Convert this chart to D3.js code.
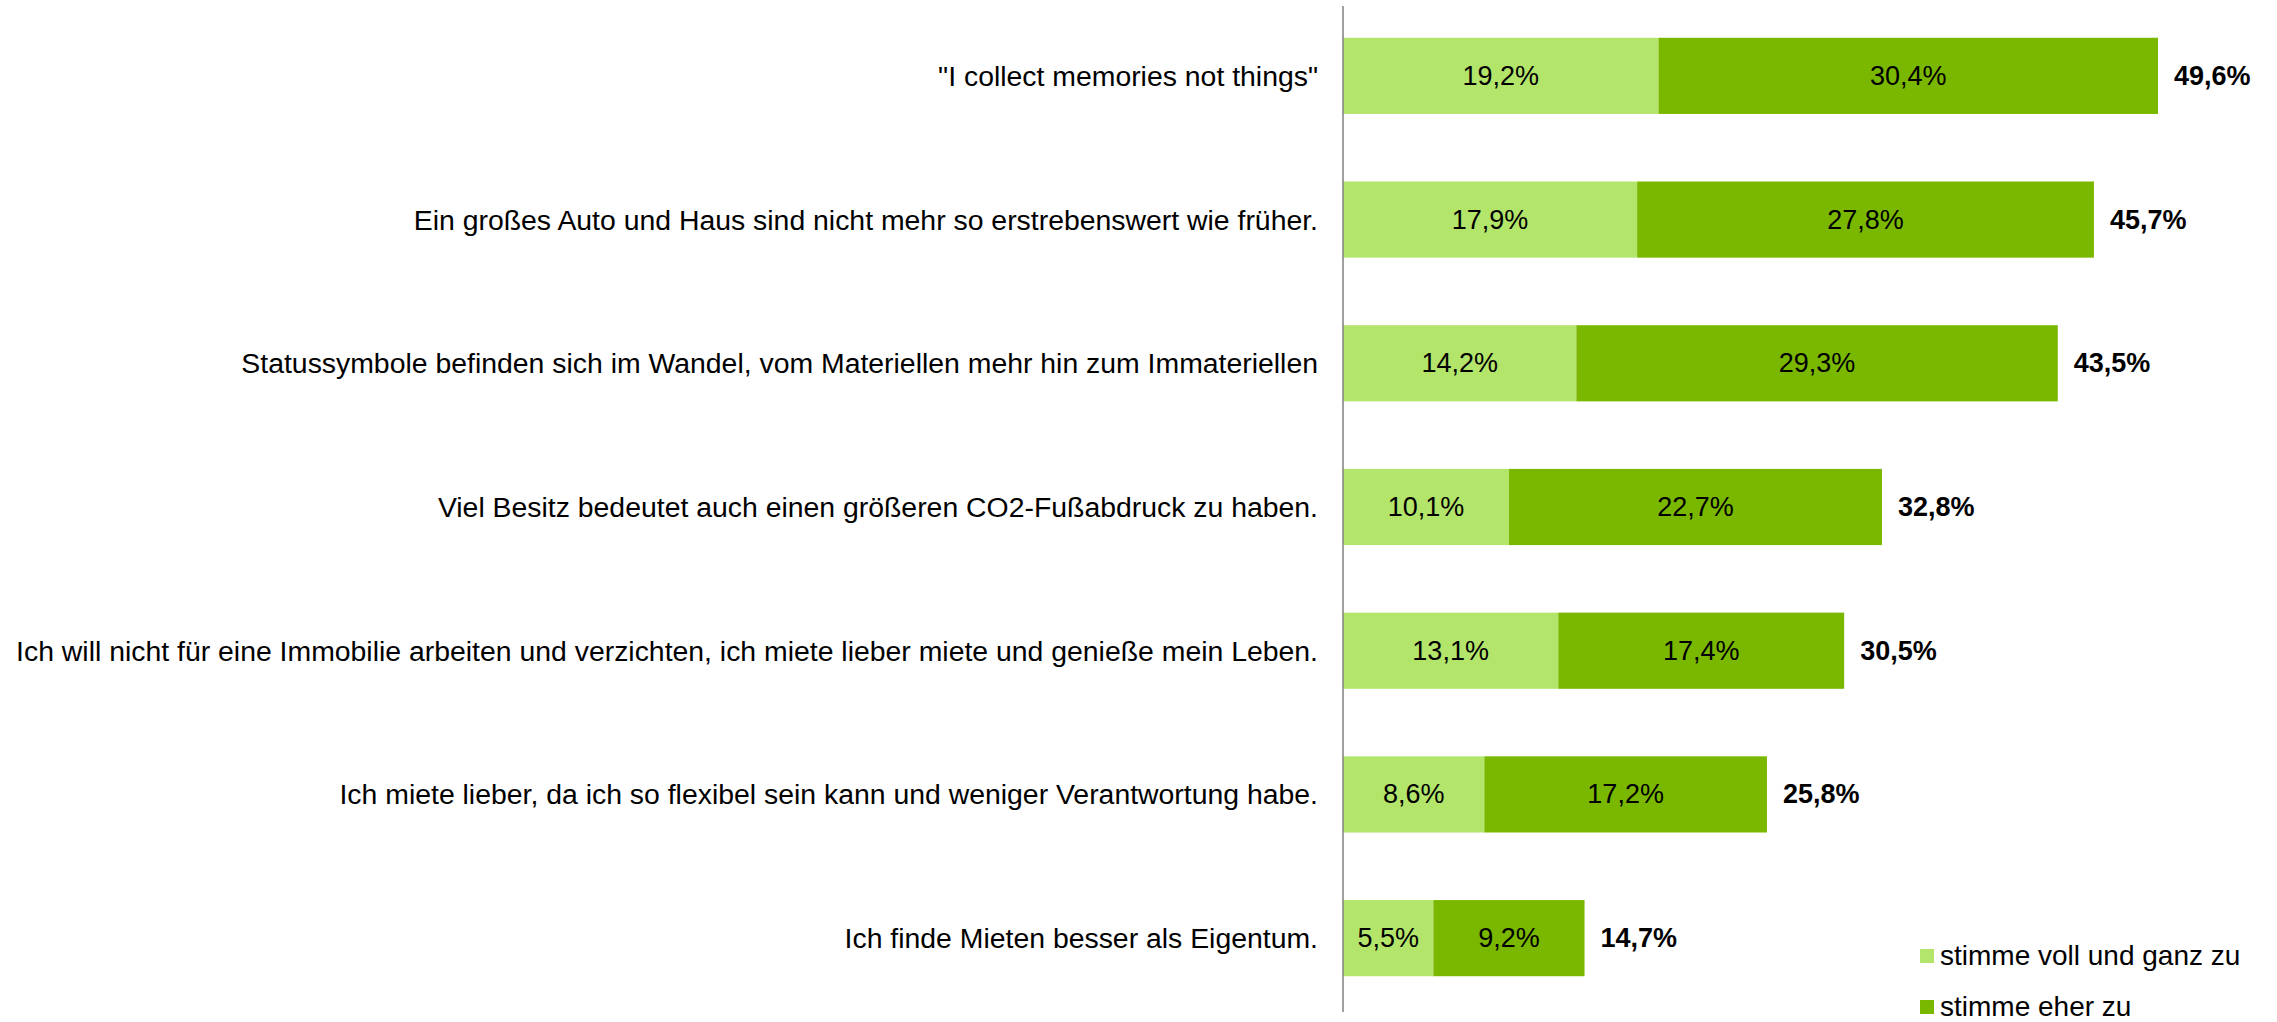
<!DOCTYPE html>
<html>
<head>
<meta charset="utf-8">
<script src="https://cdn.jsdelivr.net/npm/d3@7"></script>
<style>
  body { margin: 0; background: #fff; }
  svg { display: block; font-family: 'Liberation Sans', Arial, sans-serif; }
</style>
</head>
<body>
<div id="chart"></div>
<script>
const categories = [
  '"I collect memories not things"',
  'Ein großes Auto und Haus sind nicht mehr so erstrebenswert wie früher.',
  'Statussymbole befinden sich im Wandel, vom Materiellen mehr hin zum Immateriellen',
  'Viel Besitz bedeutet auch einen größeren CO2-Fußabdruck zu haben.',
  'Ich will nicht für eine Immobilie arbeiten und verzichten, ich miete lieber miete und genieße mein Leben.',
  'Ich miete lieber, da ich so flexibel sein kann und weniger Verantwortung habe.',
  'Ich finde Mieten besser als Eigentum.'
];
const vollUndGanz = [19.2, 17.9, 14.2, 10.1, 13.1, 8.6, 5.5];
const eherZu = [30.4, 27.8, 29.3, 22.7, 17.4, 17.2, 9.2];
const totals = [49.6, 45.7, 43.5, 32.8, 30.5, 25.8, 14.7];
const seriesNames = ['stimme voll und ganz zu', 'stimme eher zu'];
const palette = ['#b3e56b', '#7ab800'];

const width = 2277;
const height = 1022;
const x0 = 1343;

const fmt = (v) => v.toFixed(1).replace('.', ',') + '%';

const data = categories.map((c, i) => ({ cat: c, a: vollUndGanz[i], b: eherZu[i], total: totals[i] }));

const x = d3.scaleLinear().domain([0, 50]).range([x0, x0 + 821.6]);
const y = d3.scaleBand().domain(categories).range([4, 1010]).paddingInner(0.47).paddingOuter(0.235);

const svg = d3.select('#chart').append('svg')
  .attr('width', width)
  .attr('height', height);

const stack = d3.stack().keys(['a', 'b'])(data);
const color = d3.scaleOrdinal().domain(['a', 'b']).range(palette);

const layers = svg.append('g')
  .selectAll('g')
  .data(stack)
  .join('g')
  .attr('fill', (d) => color(d.key));

layers.selectAll('rect')
  .data((d) => d)
  .join('rect')
  .attr('x', (d) => x(d[0]))
  .attr('width', (d) => x(d[1]) - x(d[0]))
  .attr('y', (d) => y(d.data.cat))
  .attr('height', y.bandwidth());

// segment labels
layers.selectAll('text')
  .data((d) => d)
  .join('text')
  .attr('x', (d) => (x(d[0]) + x(d[1])) / 2)
  .attr('y', (d) => y(d.data.cat) + y.bandwidth() / 2)
  .attr('text-anchor', 'middle')
  .attr('dominant-baseline', 'central')
  .attr('fill', '#000')
  .style('font-size', '27px')
  .text((d) => fmt(d[1] - d[0]));

// totals
svg.append('g')
  .selectAll('text')
  .data(data)
  .join('text')
  .attr('x', (d) => x(d.total) + 16)
  .attr('y', (d) => y(d.cat) + y.bandwidth() / 2)
  .attr('dominant-baseline', 'central')
  .style('font-size', '27px')
  .style('font-weight', 'bold')
  .text((d) => fmt(d.total));

// category labels
svg.append('g')
  .selectAll('text')
  .data(data)
  .join('text')
  .attr('x', x0 - 25)
  .attr('y', (d) => y(d.cat) + y.bandwidth() / 2)
  .attr('text-anchor', 'end')
  .attr('dominant-baseline', 'central')
  .style('font-size', '28.4px')
  .text((d) => d.cat);

// axis line
svg.append('line')
  .attr('x1', x0).attr('x2', x0)
  .attr('y1', 6).attr('y2', 1012)
  .attr('stroke', '#808080')
  .attr('stroke-width', 1.5);

// legend
const legend = svg.append('g')
  .selectAll('g')
  .data(seriesNames)
  .join('g')
  .attr('transform', (d, i) => `translate(1920, ${949 + i * 51})`);

legend.append('rect')
  .attr('width', 14)
  .attr('height', 14)
  .attr('fill', (d, i) => palette[i]);

legend.append('text')
  .attr('x', 20)
  .attr('y', 16)
  .style('font-size', '28px')
  .text((d) => d);
</script>
</body>
</html>
